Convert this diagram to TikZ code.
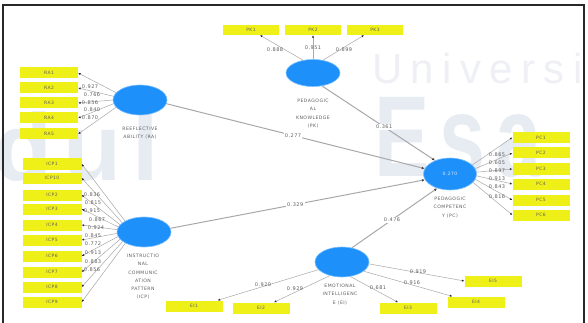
\documentclass[tikz,border=0pt]{standalone}
\usepackage{fontspec}
\setmainfont{DejaVu Sans}
\newfontfamily\smallfont[LetterSpace=10]{DejaVu Sans}
\newfontfamily\wmthin[LetterSpace=20]{Liberation Sans}
\newfontfamily\wmbold[LetterSpace=12]{Liberation Sans Bold}
\usetikzlibrary{shapes.geometric,arrows.meta}

\definecolor{lvblue}{RGB}{30,144,250}
\definecolor{lvrim}{RGB}{120,190,255}
\definecolor{indyellow}{RGB}{240,240,25}
\definecolor{pathgray}{RGB}{168,168,168}
\definecolor{txtgray}{RGB}{95,95,95}
\definecolor{wmlight}{RGB}{238,240,245}
\definecolor{wmdark}{RGB}{231,235,242}
\definecolor{framecol}{RGB}{40,40,40}

\tikzset{
  construct/.style={ellipse, fill=lvblue, draw=lvrim, line width=0.6pt,
    minimum width=54pt, minimum height=30pt, inner sep=0pt,
    font=\smallfont\fontsize{4.5}{5}\selectfont, text=white!85!lvblue},
  indicator/.style={rectangle, fill=indyellow, minimum width=57pt,
    minimum height=11pt, inner sep=0pt,
    font=\smallfont\fontsize{4.5}{5}\selectfont, text=txtgray},
  cname/.style={align=center, inner sep=0pt,
    font=\smallfont\fontsize{4.6}{8.2}\selectfont, text=txtgray},
  loadlbl/.style={inner sep=0pt, font=\smallfont\fontsize{5}{5}\selectfont, text=txtgray},
  pathlbl/.style={inner sep=1.2pt, fill=white, font=\smallfont\fontsize{5}{5}\selectfont, text=txtgray},
  load/.style={draw=pathgray, line width=0.5pt,
    -{Latex[length=2.4pt,width=2.2pt,color=black!85]}},
  structural/.style={draw=pathgray, line width=1pt,
    -{Latex[length=3pt,width=2.6pt,color=black!75]}},
}

\begin{document}
\begin{tikzpicture}[x=1pt,y=-1pt]
\useasboundingbox (0,0) rectangle (588,323);
\fill[white] (0,0) rectangle (588,323);

% faint watermark lettering behind the model
\node[anchor=base west, inner sep=0pt, text=wmlight,
  font=\wmthin\fontsize{42}{42}\selectfont] (wmuni) at (372,84) {Universi};
\node[anchor=base west, inner sep=0pt, text=wmdark, xscale=0.72,
  font=\wmbold\fontsize{115}{115}\selectfont] (wmesa) at (374,176) {Esa};
\node[anchor=base west, inner sep=0pt, text=wmdark,
  font=\wmbold\fontsize{95}{95}\selectfont] (wmdul) at (-6,180) {dul};

% outer frame
\draw[framecol, line width=1.6pt] (3,5) rectangle (584,340);

% latent constructs
\node[construct] (ra)  at (140,100) {};
\node[construct] (icp) at (144,232) {};
\node[construct, minimum height=27pt] (pk) at (313,73) {};
\node[construct, minimum width=53pt, minimum height=32pt] (pc) at (450,174) {0.270};
\node[construct] (ei)  at (342,262) {};

\node[cname, anchor=north] (raname)  at (140,127) {REEFLECTIVE\\ABILITY (RA)};
\node[cname, anchor=north] (icpname) at (143,254) {INSTRUCTIO\\NAL\\COMMUNIC\\ATION\\PATTERN\\(ICP)};
\node[cname, anchor=north] (pkname)  at (313,99)  {PEDAGOGIC\\AL\\KNOWLEDGE\\(PK)};
\node[cname, anchor=north] (pcname)  at (450,197) {PEDAGOGIC\\COMPETENC\\Y (PC)};
\node[cname, anchor=north] (einame)  at (340,284) {EMOTIONAL\\INTELLIGENC\\E (EI)};

% reflective ability indicators
\foreach \n/\y in {1/73,2/88,3/103,4/118,5/134}
  \node[indicator, minimum width=58pt] (RA\n) at (49,\y) {RA\n};
\foreach \n/\a in {1/163,2/172,3/180,4/188,5/197}
  \draw[load] (ra.\a) -- (RA\n.east);
\node[loadlbl] (lra1) at (90,87)  {0.927};
\node[loadlbl] (lra2) at (92,95)  {0.766};
\node[loadlbl] (lra3) at (90,103) {0.856};
\node[loadlbl] (lra4) at (92,110) {0.840};
\node[loadlbl] (lra5) at (90,118) {0.870};

% instructional communication pattern indicators
\foreach \k/\lab/\y/\a in {1/ICP1/164/150,2/ICP10/178/157,3/ICP2/195/163,4/ICP3/209/169,
    5/ICP4/225/175,6/ICP5/240/183,7/ICP6/256/190,8/ICP7/272/197,9/ICP8/287/204,10/ICP9/302/211}
{
  \node[indicator, minimum width=59pt] (I\k) at (52,\y) {\lab};
  \draw[load] (icp.\a) -- (I\k.east);
}
\node[loadlbl] (li1)  at (92,195) {0.836};
\node[loadlbl] (li2)  at (93,203) {0.815};
\node[loadlbl] (li3)  at (92,211) {0.915};
\node[loadlbl] (li4)  at (97,220) {0.867};
\node[loadlbl] (li5)  at (96,228) {0.924};
\node[loadlbl] (li6)  at (93,236) {0.845};
\node[loadlbl] (li7)  at (93,244) {0.772};
\node[loadlbl] (li8)  at (93,253) {0.913};
\node[loadlbl] (li9)  at (93,262) {0.883};
\node[loadlbl] (li10) at (92,270) {0.856};

% pedagogical knowledge indicators
\node[indicator, minimum width=56pt, minimum height=10pt] (PK1) at (251,30) {PK1};
\node[indicator, minimum width=56pt, minimum height=10pt] (PK2) at (313,30) {PK2};
\node[indicator, minimum width=56pt, minimum height=10pt] (PK3) at (375,30) {PK3};
\draw[load] (pk.128) -- ([xshift=9pt]PK1.south);
\draw[load] (pk.90) -- (PK2.south);
\draw[load] (pk.52) -- ([xshift=-11pt]PK3.south);
\node[loadlbl] (lpk1) at (275,50) {0.888};
\node[loadlbl] (lpk2) at (313,48) {0.951};
\node[loadlbl] (lpk3) at (344,50) {0.899};

% pedagogical competency indicators
\foreach \n/\y/\a in {1/137.5/22,2/153/12,3/169/4,4/184/-4,5/200/-12,6/215/-20}
{
  \node[indicator] (PC\n) at (541,\y) {PC\n};
  \draw[load] (pc.\a) -- (PC\n.west);
}
\node[loadlbl] (lpc1) at (497,155) {0.865};
\node[loadlbl] (lpc2) at (497,163) {0.605};
\node[loadlbl] (lpc3) at (497,171) {0.897};
\node[loadlbl] (lpc4) at (497,179) {0.913};
\node[loadlbl] (lpc5) at (497,187) {0.843};
\node[loadlbl] (lpc6) at (497,197) {0.816};

% emotional intelligence indicators
\node[indicator] (EI1) at (194,306) {EI1};
\node[indicator] (EI2) at (261,308) {EI2};
\node[indicator] (EI3) at (408,308) {EI3};
\node[indicator] (EI4) at (476,302) {EI4};
\node[indicator] (EI5) at (493,281) {EI5};
\draw[load] (ei.198) -- ([xshift=-5pt]EI1.north east);
\draw[load] (ei.228) -- ([xshift=13pt]EI2.north);
\draw[load] (ei.300) -- ([xshift=-10pt]EI3.north);
\draw[load] (ei.337) -- ([xshift=5pt]EI4.north west);
\draw[load] (ei.356) -- (EI5.west);
\node[loadlbl] (lei1) at (263,285) {0.920};
\node[loadlbl] (lei2) at (295,289) {0.929};
\node[loadlbl] (lei3) at (378,288) {0.681};
\node[loadlbl] (lei5) at (418,272) {0.919};
\node[loadlbl] (lei4) at (412,283) {0.916};

% structural paths
\draw[structural] (ra.-8)  -- node[pathlbl, pos=0.49] (p1) {0.277} (pc.168);
\draw[structural] (pk.-55) -- node[pathlbl, pos=0.55] (p2) {0.361} (pc.138);
\draw[structural] (icp.8)  -- node[pathlbl, pos=0.49] (p3) {0.329} (pc.193);
\draw[structural] (ei.55)  -- node[pathlbl, pos=0.47] (p4) {0.476} (pc.228);
\end{tikzpicture}
\end{document}
